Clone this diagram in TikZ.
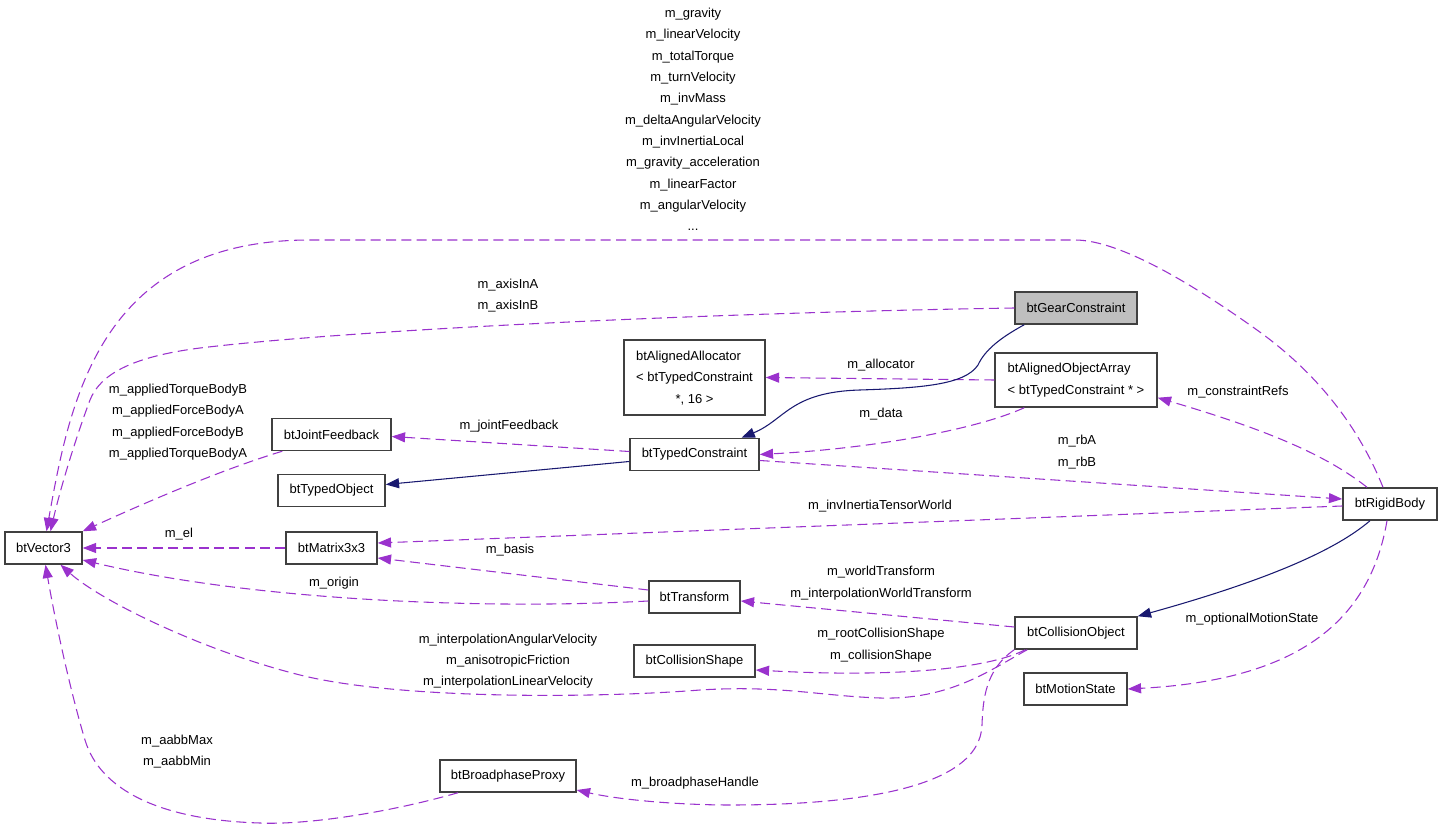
\documentclass[tikz,border=0pt]{standalone}
\usepackage{fontspec}
\setmainfont{Liberation Sans}
\usetikzlibrary{calc,arrows.meta}
\definecolor{usecol}{HTML}{9A32CD}
\definecolor{inhcol}{HTML}{191970}
\definecolor{boxcol}{HTML}{404040}
\definecolor{gearcol}{HTML}{BFBFBF}

\begin{document}
\begin{tikzpicture}[x=0.75pt,y=-0.75pt,
		font=\fontsize{9.75}{16}\selectfont,
		>={Triangle[length=10pt,width=7.5pt]},
		cls/.style={draw=boxcol,line width=1.1pt,fill=white,minimum height=24pt,inner sep=2pt},
		use/.style={->,color=usecol,line width=0.8pt,dash pattern=on 7.5pt off 4pt},
		inh/.style={->,color=inhcol,line width=0.8pt},
		lbl/.style={align=center,inner sep=0pt}]
		\useasboundingbox (0,0) rectangle (1443,830);
		\begin{scope}
			\node(vec) [cls,minimum width=57.75pt] at (43.5,548) {btVector3};
			\node(jf) [cls,minimum width=89.25pt] at (331.5,434.5) {btJointFeedback};
			\node(tobj) [cls,minimum width=80.25pt] at (331.5,490.5) {btTypedObject};
			\node(mat) [cls,minimum width=68.25pt] at (331.5,548) {btMatrix3x3};
			\node(alloc) [cls,minimum width=105.75pt,minimum height=56.25pt] at (694.5,377.5)
				{\begin{tabular}{@{}l@{}}btAlignedAllocator\\< btTypedConstraint\\\multicolumn{1}{@{}c@{}}{*, 16 >}\end{tabular}};
			\node(tc) [cls,minimum width=96.75pt] at (694.5,454.5) {btTypedConstraint};
			\node(gear) [cls,fill=gearcol,minimum width=91.5pt] at (1076,308) {btGearConstraint};
			\node(aoa) [cls,align=left,minimum width=121.5pt,minimum height=40.5pt] at (1076,380)
				{btAlignedObjectArray\\< btTypedConstraint * >};
			\node(rb) [cls,minimum width=70.5pt] at (1390,504) {btRigidBody};
			\node(co) [cls,minimum width=91.5pt] at (1076,633) {btCollisionObject};
			\node(ms) [cls,minimum width=77.25pt] at (1075.5,689) {btMotionState};
			\node(tr) [cls,minimum width=68.25pt] at (694.5,597) {btTransform};
			\node(cs) [cls,minimum width=90.75pt] at (694.5,661) {btCollisionShape};
			\node(bp) [cls,minimum width=102pt] at (508,776) {btBroadphaseProxy};

			\draw[use] ($(rb.north)+(-7,0)$) .. controls (1360,430) and (1320,375) .. (1257,330)
				.. controls (1194,285) and (1120,240) .. (1075,240) -- (310,240)
				.. controls (100,240) and (70,400) .. ($(vec.north)+(3,0)$);
			\node(lgrav) [lbl] at (693,119.5) {m\_gravity\\m\_linearVelocity\\m\_totalTorque\\m\_turnVelocity\\m\_invMass\\m\_deltaAngularVelocity\\m\_invInertiaLocal\\m\_gravity\_acceleration\\m\_linearFactor\\m\_angularVelocity\\...};
			\draw[use] (gear.west) .. controls (700,313) and (350,330) .. (200,348)
				.. controls (130,357) and (100,375) .. (90,400)
				.. controls (75,440) and (60,490) .. ($(vec.north)+(7,0)$);
			\node(laxis) [lbl] at (508,295.5) {m\_axisInA\\m\_axisInB};
			\draw[use] ($(jf.south west)+(11,0)$) .. controls (220,470) and (140,505) .. (vec.north east);
			\node(lfeed) [lbl] at (178,422) {m\_appliedTorqueBodyB\\m\_appliedForceBodyA\\m\_appliedForceBodyB\\m\_appliedTorqueBodyA};
			\draw[use] (mat.west) -- (vec.east);
			\node(lel) [lbl] at (179,534) {m\_el};
			\draw[use] ($(tr.west)+(0,4)$) .. controls (480,610) and (250,600) .. ($(vec.east)+(0,12)$);
			\node(lorig) [lbl] at (334,583) {m\_origin};
			\draw[use] ($(tr.west)+(0,-7)$) -- ($(mat.east)+(0,10)$);
			\node(lbasis) [lbl] at (510,550) {m\_basis};
			\draw[use] ($(co.south west)+(13,0)$) .. controls (990,670) and (950,700) .. (880,698)
				.. controls (820,696) and (780,685) .. (700,690)
				.. controls (600,698) and (400,700) .. (300,675)
				.. controls (200,650) and (100,600) .. ($(vec.south)+(17,0)$);
			\node(linterp) [lbl] at (508,661) {m\_interpolationAngularVelocity\\m\_anisotropicFriction\\m\_interpolationLinearVelocity};
			\draw[use] ($(bp.south)+(-50,0)$) .. controls (380,815) and (300,825) .. (260,823)
				.. controls (160,820) and (100,790) .. (85,740)
				.. controls (70,690) and (55,620) .. ($(vec.south)+(2,0)$);
			\node(laabb) [lbl] at (177,751.5) {m\_aabbMax\\m\_aabbMin};

			\draw[use] ($(tc.west)+(0,-3)$) -- ($(jf.east)+(0,2)$);
			\node(ljoint) [lbl] at (509,426) {m\_jointFeedback};
			\draw[inh] ($(tc.west)+(0,7)$) -- ($(tobj.east)+(0,-6)$);
			\draw[use] (aoa.west) -- (alloc.east);
			\node(lalloc) [lbl] at (881,365) {m\_allocator};
			\draw[use] ($(aoa.south west)+(30,0)$) .. controls (980,428) and (880,448) .. (tc.east);
			\node(ldata) [lbl] at (881,414) {m\_data};
			\draw[inh] ($(gear.south west)+(10,0)$) .. controls (1000,338) and (985,350) .. (978,365)
				.. controls (965,385) and (920,388) .. (860,390)
				.. controls (790,392) and (785,420) .. ($(tc.north)+(47,0)$);
			\draw[use] ($(rb.north)+(-23,0)$) .. controls (1320,450) and (1250,425) .. ($(aoa.south east)+(0,-10)$);
			\node(lrefs) [lbl] at (1238,392) {m\_constraintRefs};
			\draw[use] ($(tc.east)+(0,6)$) -- ($(rb.west)+(0,-5)$);
			\node(lrb) [lbl] at (1077,452) {m\_rbA\\m\_rbB};
			\draw[use] ($(rb.west)+(0,2)$) -- ($(mat.east)+(0,-5)$);
			\node(linv) [lbl] at (880,506) {m\_invInertiaTensorWorld};
			\draw[inh] ($(rb.south)+(-20,0)$) .. controls (1330,555) and (1250,585) .. (co.north east);
			\draw[use] ($(rb.south)+(-3,0)$) .. controls (1370,620) and (1300,680) .. (ms.east);
			\node(lmotion) [lbl] at (1252,619) {m\_optionalMotionState};
			\draw[use] ($(co.west)+(0,-6)$) -- ($(tr.east)+(0,4)$);
			\node(lworld) [lbl] at (881,583) {m\_worldTransform\\m\_interpolationWorldTransform};
			\draw[use] ($(co.south west)+(11,0)$) .. controls (990,668) and (900,678) .. ($(cs.east)+(0,9)$);
			\node(lshape) [lbl] at (881,645) {m\_rootCollisionShape\\m\_collisionShape};
			\draw[use] (co.south west) .. controls (985,670) and (983,700) .. (982,725)
				.. controls (980,790) and (850,805) .. (730,805)
				.. controls (680,805) and (620,800) .. ($(bp.east)+(0,14)$);
			\node(lbroad) [lbl] at (695,783) {m\_broadphaseHandle};
		\end{scope}
	\end{tikzpicture}
\end{document}
